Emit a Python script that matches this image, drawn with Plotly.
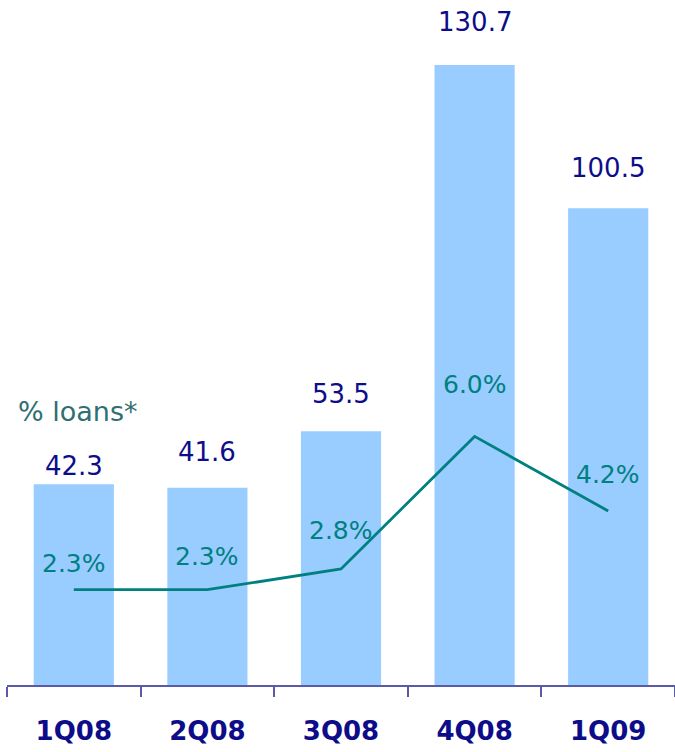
import plotly.graph_objects as go

quarters = ["1Q08", "2Q08", "3Q08", "4Q08", "1Q09"]
provisions = [42.3, 41.6, 53.5, 130.7, 100.5]
pct_loans = [2.3, 2.3, 2.8, 6.0, 4.2]

# label offsets (px) of the text centre above each bar top / line point
bar_offsets = [18, 36, 37, 43, 40]
pct_offsets = [26, 33, 38, 52, 36]

NAVY = "#0d0d8a"
TEAL = "#008080"
FONT = "DejaVu Sans"

fig = go.Figure()

fig.add_trace(
    go.Bar(
        x=quarters,
        y=provisions,
        marker=dict(color="#99ccff", line=dict(width=0)),
        width=0.6,
        showlegend=False,
    )
)

fig.add_trace(
    go.Scatter(
        x=quarters,
        y=pct_loans,
        yaxis="y2",
        mode="lines",
        line=dict(color=TEAL, width=2.8),
        showlegend=False,
    )
)

for q, v, off in zip(quarters, provisions, bar_offsets):
    fig.add_annotation(
        x=q, y=v, yref="y", text=f"{v:.1f}", showarrow=False,
        yanchor="middle", yshift=off, font=dict(family=FONT, size=26, color=NAVY),
    )

for q, p, off in zip(quarters, pct_loans, pct_offsets):
    fig.add_annotation(
        x=q, y=p, yref="y2", text=f"{p:.1f}%", showarrow=False,
        yanchor="middle", yshift=off, font=dict(family=FONT, size=25, color=TEAL),
    )

fig.add_annotation(
    xref="paper", yref="paper", x=0.013, y=0.411, xanchor="left",
    text="% loans*", showarrow=False,
    font=dict(family=FONT, size=27, color="#2f6f6f"),
)

fig.update_layout(
    width=675,
    height=752,
    margin=dict(l=7, r=0, t=20, b=67),
    plot_bgcolor="white",
    paper_bgcolor="white",
    bargap=0.4,
    xaxis=dict(
        showline=True,
        linecolor="#5a5aa8",
        linewidth=2,
        ticks="outside",
        tickson="boundaries",
        ticklen=10,
        tickwidth=2,
        tickcolor="#5a5aa8",
        ticklabelstandoff=22,
        tickfont=dict(family=FONT, size=26, color=NAVY, weight="bold"),
        showgrid=False,
    ),
    yaxis=dict(range=[0, 140.2], visible=False, showgrid=False),
    yaxis2=dict(range=[0, 16.05], overlaying="y", visible=False, showgrid=False),
)

# drop the browser's default body margin so the figure sits at the page corner
fig.write_html(
    "out.html",
    config={"displayModeBar": False},
    post_script="document.body.style.margin='0';document.body.style.overflow='hidden';",
)
